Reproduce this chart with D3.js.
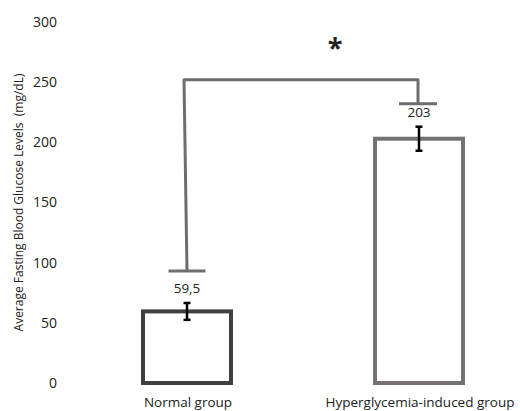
<!DOCTYPE html>
<html><head><meta charset="utf-8">
<script src="https://cdn.jsdelivr.net/npm/d3@7"></script>
<style>body{margin:0;background:#fff}svg{display:block}text{font-family:"Open Sans","Noto Sans",sans-serif}</style>
</head><body>
<script>
const categories = ["Normal group", "Hyperglycemia-induced group"];
const values = [59.5, 203];
const errors = [7, 10];
const valueLabels = ["59,5", "203"];
const yTicks = [0, 50, 100, 150, 200, 250, 300];
const yTitle = "Average Fasting Blood Glucose Levels  (mg/dL)";
const bracketLevel = 252;
const bracketEnds = [93, 232];
const significance = "*";
const barColors = ["#404040", "#767272"];

const W = 520, H = 411;
const svg = d3.select("body").append("svg").attr("width", W).attr("height", H);
const y = d3.scaleLinear().domain([0, 300]).range([383, 22]);
const x = d3.scalePoint().domain(categories).range([187, 419]);
const barW = 88;

// y axis ticks (no line)
const yAxis = d3.axisLeft(y).tickValues(yTicks).tickSize(0).tickPadding(0);
const gy = svg.append("g").attr("transform", "translate(57,0)").call(yAxis);
gy.select(".domain").remove();
gy.selectAll("text").attr("font-size", 14).attr("fill", "#222").attr("font-family", "'Open Sans','Noto Sans',sans-serif");

// y title
svg.append("text").attr("transform", `translate(23,202.5) rotate(-90)`)
  .attr("text-anchor", "middle").attr("font-size", 12).attr("fill", "#222")
  .attr("xml:space", "preserve").style("white-space", "pre").text(yTitle);

// bars
svg.selectAll("rect.bar").data(categories).join("rect")
  .attr("x", d => x(d) - barW / 2)
  .attr("y", (d, i) => y(values[i]))
  .attr("width", barW)
  .attr("height", (d, i) => y(0) - y(values[i]))
  .attr("fill", "#fff")
  .attr("stroke", (d, i) => barColors[i])
  .attr("stroke-width", 4);

// error bars
const eg = svg.selectAll("g.err").data(categories).join("g").attr("stroke", "#000").attr("stroke-width", 2.5);
eg.append("line").attr("x1", d => x(d)).attr("x2", d => x(d))
  .attr("y1", (d, i) => y(values[i] - errors[i])).attr("y2", (d, i) => y(values[i] + errors[i]));
eg.append("line").attr("x1", d => x(d) - 3.5).attr("x2", d => x(d) + 3.5)
  .attr("y1", (d, i) => y(values[i] + errors[i])).attr("y2", (d, i) => y(values[i] + errors[i]));
eg.append("line").attr("x1", d => x(d) - 3.5).attr("x2", d => x(d) + 3.5)
  .attr("y1", (d, i) => y(values[i] - errors[i])).attr("y2", (d, i) => y(values[i] - errors[i]));

// value labels
svg.selectAll("text.val").data(categories).join("text")
  .attr("x", d => x(d)).attr("y", (d, i) => y(values[i] + errors[i]) - 10)
  .attr("text-anchor", "middle").attr("font-size", 13.5).attr("fill", "#222")
  .text((d, i) => valueLabels[i]);

// bracket
const bx1 = x(categories[0]) - 3, bx2 = x(categories[1]) - 1;
const bracket = svg.append("g").attr("stroke", "#6e6e6e").attr("stroke-width", 3).attr("fill", "none");
bracket.append("path").attr("d", `M${bx1 + 3},${y(bracketEnds[0])} L${bx1},${y(bracketLevel)} L${bx2},${y(bracketLevel)} L${bx2},${y(bracketEnds[1])}`)
  .attr("stroke-linejoin", "round");
bracket.append("line").attr("x1", bx1 + 3 - 18.5).attr("x2", bx1 + 3 + 18.5)
  .attr("y1", y(bracketEnds[0])).attr("y2", y(bracketEnds[0]));
bracket.append("line").attr("x1", bx2 - 19).attr("x2", bx2 + 19)
  .attr("y1", y(bracketEnds[1])).attr("y2", y(bracketEnds[1]));

svg.append("text").attr("x", (bx1 + bx2) / 2 + 34).attr("y", 57)
  .attr("text-anchor", "middle").attr("font-size", 27).attr("font-weight", "bold")
  .attr("fill", "#222").text(significance);

// x labels
svg.selectAll("text.xl").data(categories).join("text")
  .attr("x", d => x(d) + 1).attr("y", 407)
  .attr("text-anchor", "middle").attr("font-size", 13.5).attr("fill", "#222")
  .text(d => d);
</script>
</body></html>
